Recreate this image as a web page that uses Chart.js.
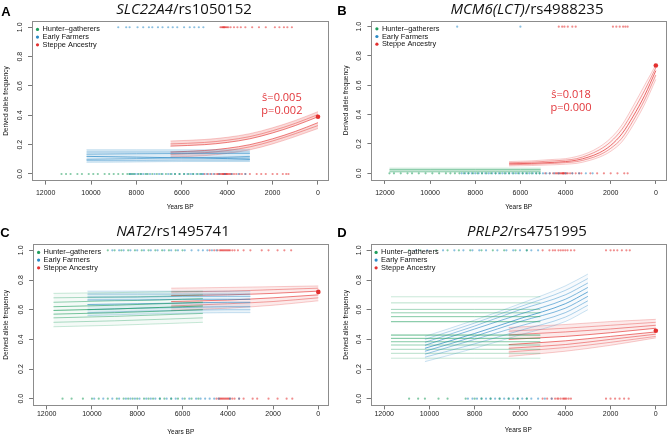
<!DOCTYPE html>
<html>
<head>
<meta charset="utf-8">
<script src="https://cdn.jsdelivr.net/npm/chart.js@4.4.1/dist/chart.umd.min.js"></script>
<style>
body { margin: 0; width: 670px; height: 434px; overflow: hidden; background: #fff; position: relative; }
.panel { position: absolute; width: 335px; height: 222px; }
.letter { position: absolute; font: bold 13px "Liberation Sans", Arial, sans-serif; transform: translate(-50%, -50%); }
.ttl { position: absolute; font: 15px "Open Sans", sans-serif; transform: translate(-50%, -50%); white-space: nowrap; color: #111; }
</style>
</head>
<body>
<div class="panel" style="left:0;top:0"><canvas id="pA" width="335" height="222"></canvas></div>
<div class="panel" style="left:335px;top:0"><canvas id="pB" width="335" height="222"></canvas></div>
<div class="panel" style="left:0;top:217px"><canvas id="pC" width="335" height="222"></canvas></div>
<div class="panel" style="left:335px;top:217px"><canvas id="pD" width="335" height="222"></canvas></div>

<div class="letter" style="left:6px;top:11px">A</div>
<div class="letter" style="left:342px;top:10px">B</div>
<div class="letter" style="left:5px;top:232px">C</div>
<div class="letter" style="left:342px;top:232px">D</div>
<div class="ttl" style="left:184px;top:8px"><i>SLC22A4</i>/rs1050152</div>
<div class="ttl" style="left:527px;top:8px"><i>MCM6(LCT)</i>/rs4988235</div>
<div class="ttl" style="left:173px;top:230px"><i>NAT2</i>/rs1495741</div>
<div class="ttl" style="left:527px;top:230px"><i>PRLP2</i>/rs4751995</div>

<script>
Chart.defaults.font.family = '"Liberation Sans", Arial, sans-serif'

const popNames = ['Hunter–gatherers', 'Early Farmers', 'Steppe Ancestry']
const GREEN = '#1f9e5c', BLUE = '#2a8ac6', RED = '#e3302f'
const popColors = [GREEN, BLUE, RED]
const yearTicks = [0, 2000, 4000, 6000, 8000, 10000, 12000]
const freqTicks = [0, 0.2, 0.4, 0.6, 0.8, 1.0]

// ---- A: SLC22A4/rs1050152
const aFarmerYears = [10200, 8000, 6000, 4000, 3000]
const aFarmerLines = [
    [0.165, 0.165, 0.165, 0.165, 0.165],
    [0.15, 0.15, 0.15, 0.15, 0.15],
    [0.135, 0.138, 0.14, 0.14, 0.14],
    [0.12, 0.115, 0.11, 0.105, 0.10],
    [0.10, 0.105, 0.11, 0.115, 0.12],
    [0.092, 0.093, 0.095, 0.095, 0.095],
    [0.08, 0.082, 0.085, 0.085, 0.085]
]
const aSteppeYears = [6500, 5000, 4000, 3000, 2000, 1000, 0]
const aSteppeLines = [
    [0.225, 0.235, 0.25, 0.275, 0.315, 0.365, 0.425],
    [0.205, 0.215, 0.23, 0.255, 0.295, 0.345, 0.405],
    [0.19, 0.20, 0.215, 0.24, 0.28, 0.33, 0.39],
    [0.15, 0.16, 0.175, 0.20, 0.24, 0.29, 0.35],
    [0.135, 0.145, 0.16, 0.185, 0.225, 0.275, 0.33],
    [0.115, 0.125, 0.14, 0.165, 0.205, 0.255, 0.31]
]
const aToday = 0.39
const aHG0 = [11300, 11100, 10900, 10600, 10400, 10100, 9900, 9700, 9400, 9200, 9000, 8800, 8600, 8400, 8300, 8200, 8100, 7900, 7800, 7600, 7500, 7300, 7100, 6900, 6700, 6500, 6300, 6100, 5900, 5700, 5500, 5300, 5150]
const aEF0 = [8300, 8250, 8150, 8050, 7950, 7800, 7700, 7550, 7400, 7200, 7000, 6850, 6600, 6450, 6300, 6100, 5900, 5750, 5600, 5500, 5350, 5200, 5100, 5050, 4900, 4750, 4600, 4350, 4100, 3800, 3500, 3200]
const aST0 = [5000, 4850, 4700, 4550, 4450, 4400, 4350, 4300, 4250, 4200, 4180, 4150, 4120, 4100, 4080, 4050, 4020, 4000, 3950, 3900, 3850, 3800, 3700, 3600, 3450, 3350, 3200, 3000, 2700, 2500, 2300, 2000, 1800, 1550, 1400, 1300]
const aHG1 = []
const aEF1 = [8800, 8450, 8300, 7950, 7700, 7450, 7300, 7050, 6850, 6600, 6400, 6200, 5900, 5650, 5450, 5250, 5050]
const aST1 = [4300, 4250, 4200, 4180, 4150, 4120, 4100, 4050, 4000, 3950, 3850, 3700, 3550, 3400, 3200, 2900, 2600, 2300, 1900, 1700, 1500, 1350, 1150]
const aNote = ['ŝ=0.005', 'p=0.002']

// ---- B: MCM6(LCT)/rs4988235
const bHunterYears = [11800, 10000, 8000, 6000, 5100]
const bHunterLines = [
    [0.035, 0.035, 0.035, 0.035, 0.035],
    [0.025, 0.025, 0.025, 0.025, 0.025],
    [0.015, 0.015, 0.015, 0.015, 0.015],
    [0.008, 0.008, 0.008, 0.008, 0.008]
]
const bSteppeYears = [6500, 5500, 4500, 4000, 3500, 3000, 2500, 2000, 1500, 1000, 500, 0]
const bSteppeLines = [
    [0.08, 0.085, 0.095, 0.10, 0.115, 0.14, 0.18, 0.24, 0.33, 0.46, 0.60, 0.74],
    [0.072, 0.076, 0.085, 0.09, 0.10, 0.125, 0.16, 0.215, 0.30, 0.425, 0.565, 0.72],
    [0.065, 0.068, 0.075, 0.08, 0.09, 0.11, 0.14, 0.19, 0.27, 0.39, 0.53, 0.70],
    [0.058, 0.062, 0.068, 0.073, 0.08, 0.098, 0.125, 0.17, 0.24, 0.36, 0.50, 0.67],
    [0.05, 0.053, 0.058, 0.062, 0.068, 0.085, 0.11, 0.15, 0.215, 0.33, 0.47, 0.64]
]
const bToday = 0.735
const bHG0 = [11800, 11600, 11300, 11000, 10800, 10500, 10200, 9900, 9600, 9300, 9100, 8900, 8700, 8500, 8300, 8100, 7900, 7700, 7500, 7300, 7100, 6900, 6700, 6500, 6300, 6100, 5900, 5700, 5500, 5300, 5150]
const bEF0 = [8600, 8450, 8300, 8150, 8000, 7850, 7700, 7550, 7400, 7250, 7100, 6950, 6800, 6650, 6500, 6350, 6200, 6050, 5900, 5750, 5600, 5450, 5300, 5150, 5000, 4850, 4700, 4500, 4300, 4000, 3700, 3400, 3100, 2800]
const bST0 = [4900, 4700, 4550, 4450, 4400, 4350, 4300, 4250, 4200, 4150, 4120, 4100, 4080, 4050, 4000, 3950, 3900, 3800, 3700, 3550, 3400, 3300, 2900, 2600, 2300, 2000, 1700, 1400, 1250]
const bHG1 = []
const bEF1 = [8800, 6000]
const bST1 = [4300, 4150, 4050, 3900, 3700, 3550, 1900, 1750, 1600, 1450, 1350, 1250]
const bNote = ['ŝ=0.018', 'p=0.000']

// ---- C: NAT2/rs1495741
const cHunterYears = [11700, 9000, 7000, 5100]
const cHunterLines = [
    [0.71, 0.715, 0.72, 0.725],
    [0.68, 0.685, 0.69, 0.70],
    [0.65, 0.66, 0.665, 0.675],
    [0.62, 0.63, 0.64, 0.65],
    [0.595, 0.605, 0.615, 0.625],
    [0.57, 0.58, 0.59, 0.60],
    [0.545, 0.555, 0.565, 0.575],
    [0.515, 0.525, 0.535, 0.545],
    [0.485, 0.495, 0.505, 0.515]
]
const cFarmerYears = [10200, 8000, 6000, 4000, 3000]
const cFarmerLines = [
    [0.725, 0.725, 0.725, 0.725, 0.725],
    [0.705, 0.705, 0.705, 0.705, 0.705],
    [0.685, 0.685, 0.69, 0.69, 0.69],
    [0.665, 0.665, 0.67, 0.67, 0.67],
    [0.635, 0.64, 0.645, 0.65, 0.65],
    [0.60, 0.61, 0.615, 0.62, 0.62],
    [0.58, 0.59, 0.595, 0.60, 0.60],
    [0.56, 0.57, 0.575, 0.58, 0.58]
]
const cSteppeYears = [6500, 4000, 2000, 0]
const cSteppeLines = [
    [0.745, 0.75, 0.755, 0.76],
    [0.72, 0.725, 0.735, 0.745],
    [0.695, 0.70, 0.71, 0.725],
    [0.655, 0.665, 0.68, 0.70],
    [0.625, 0.64, 0.655, 0.68],
    [0.595, 0.61, 0.63, 0.66]
]
const cToday = 0.72
const cHG0 = [11300, 10900, 10400, 10000, 9700, 9300, 8900, 8600, 8400, 8200, 8000, 7700, 7500, 7300, 7000, 6800, 6500, 6200, 5900, 5600, 5300]
const cEF0 = [9900, 9500, 9100, 8800, 8500, 8300, 8100, 7900, 7600, 7400, 7200, 7000, 6700, 6500, 6300, 6000, 5700, 5400, 5200, 5000, 4800, 4600, 4400, 3900, 3500]
const cST0 = [4500, 4400, 4350, 4300, 4250, 4200, 4150, 4100, 4050, 4000, 3950, 3900, 3800, 3700, 3500, 3300, 2900, 2700, 2200, 1800, 1400, 1150]
const cHG1 = [9300, 9000, 8700, 8400, 8100, 7800, 7500, 7200, 6900, 6600, 6300, 6000]
const cEF1 = [9100, 8800, 8600, 8300, 8000, 7700, 7400, 7100, 6800, 6500, 6200, 5900, 5600, 5300, 5100, 4900, 4700, 4500]
const cST1 = [4800, 4600, 4450, 4350, 4300, 4250, 4200, 4150, 4100, 4050, 4000, 3950, 3900, 3800, 3700, 3550, 3300, 3000, 2500, 2200, 1800, 1500, 1200]

// ---- D: PRLP2/rs4751995
const dHunterYears = [11700, 8000, 5100]
const dHunterLines = [
    [0.687, 0.687, 0.687],
    [0.646, 0.646, 0.646],
    [0.602, 0.602, 0.602],
    [0.579, 0.579, 0.579],
    [0.553, 0.553, 0.553],
    [0.519, 0.519, 0.519],
    [0.429, 0.429, 0.429],
    [0.407, 0.407, 0.407],
    [0.384, 0.384, 0.384],
    [0.362, 0.362, 0.362],
    [0.333, 0.333, 0.333],
    [0.306, 0.306, 0.306],
    [0.273, 0.273, 0.273]
]
const dFarmerYears = [10200, 8000, 6000, 4000, 3000]
const dFarmerLines = [
    [0.42, 0.53, 0.64, 0.76, 0.84],
    [0.40, 0.51, 0.62, 0.73, 0.81],
    [0.38, 0.49, 0.60, 0.70, 0.78],
    [0.36, 0.47, 0.57, 0.67, 0.75],
    [0.34, 0.44, 0.54, 0.64, 0.72],
    [0.32, 0.42, 0.52, 0.61, 0.69],
    [0.30, 0.40, 0.49, 0.58, 0.66],
    [0.28, 0.37, 0.46, 0.55, 0.63],
    [0.25, 0.34, 0.43, 0.52, 0.60]
]
const dSteppeYears = [6500, 4000, 2000, 0]
const dSteppeLines = [
    [0.48, 0.50, 0.52, 0.535],
    [0.455, 0.475, 0.495, 0.515],
    [0.43, 0.45, 0.47, 0.495],
    [0.40, 0.42, 0.445, 0.475],
    [0.365, 0.39, 0.42, 0.45],
    [0.34, 0.365, 0.40, 0.435],
    [0.315, 0.345, 0.38, 0.42],
    [0.285, 0.32, 0.36, 0.41]
]
const dToday = 0.458
const dHG0 = [10900, 10500, 10200, 9600, 9200, 8400, 8000, 7700, 7300, 6900, 6500, 6100, 5700]
const dEF0 = [8300, 8100, 7900, 7700, 7500, 7300, 7100, 6900, 6700, 6500, 6300, 6100, 5900, 5700, 5500, 5200, 4900, 4600]
const dST0 = [5000, 4800, 4600, 4450, 4350, 4300, 4200, 4100, 4050, 4000, 3950, 3850, 3750, 2200, 2000, 1800, 1600, 1400, 1200]
const dHG1 = [10900, 10400, 9700, 9200, 8700, 8200, 7700, 7200, 6700, 6200, 5700]
const dEF1 = [10600, 10100, 9400, 8900, 8500, 8100, 7800, 7500, 7000, 6600, 6300, 6000, 5700, 5500, 5200]
const dST1 = [5000, 4700, 4550, 4450, 4300, 4200, 4100, 4000, 3900, 3750, 3600, 2200, 2000, 1850, 1700, 1500, 1300, 1150]

function rgba (hex, a) {
    const n = parseInt(hex.slice(1), 16)
    return `rgba(${n >> 16},${(n >> 8) & 255},${n & 255},${a})`
}

// one line per trajectory, outer ones paler, light fill between neighbours
function bandSets (years, lines, color, fillAlpha) {
    const n = lines.length
    const mid = (n - 1) / 2
    return lines.map((ys, i) => {
        const t = mid ? Math.abs(i - mid) / mid : 0
        const gap = n % 2 === 0 && i === n / 2 - 1
        return {
            type: 'line',
            data: years.map((x, k) => ({ x: x, y: ys[k] })),
            borderColor: rgba(color, 0.9 - 0.6 * t),
            borderWidth: 0.8,
            pointRadius: 0,
            cubicInterpolationMode: 'monotone',
            fill: (fillAlpha > 0 && i < n - 1 && !gap) ? '+1' : false,
            backgroundColor: rgba(color, fillAlpha),
            order: 3
        }
    })
}

function obsSet (years, y, color) {
    return {
        type: 'scatter',
        data: years.map(x => ({ x: x, y: y })),
        pointRadius: 1.1,
        pointBorderWidth: 0,
        backgroundColor: rgba(color, 0.55),
        order: 1
    }
}

const framePlugin = {
    id: 'frame',
    afterDraw (chart) {
        const { ctx, chartArea: a } = chart
        ctx.save()
        ctx.strokeStyle = '#8c8c8c'
        ctx.lineWidth = 1
        ctx.strokeRect(Math.round(a.left) + 0.5, Math.round(a.top) + 0.5, Math.round(a.right - a.left), Math.round(a.bottom - a.top))
        // legend
        ctx.font = '7.4px "Liberation Sans", Arial, sans-serif'
        ctx.textBaseline = 'middle'
        popNames.forEach((name, i) => {
            const x = a.left + 5.5
            const y = a.top + 8 + i * 7.7
            ctx.fillStyle = popColors[i]
            ctx.beginPath()
            ctx.arc(x, y, 1.6, 0, Math.PI * 2)
            ctx.fill()
            ctx.fillStyle = '#111'
            ctx.fillText(name, x + 5, y)
        })
        ctx.restore()
    }
}

const notePlugin = {
    id: 'selNote',
    afterDatasetsDraw (chart, args, opts) {
        if (!opts.text) return
        const { ctx, scales } = chart
        ctx.save()
        ctx.font = '11px "Open Sans", sans-serif'
        ctx.fillStyle = '#e2363b'
        ctx.textAlign = 'center'
        ctx.textBaseline = 'middle'
        opts.text.forEach((t, i) => {
            ctx.fillText(t, scales.x.getPixelForValue(opts.year), scales.y.getPixelForValue(opts.freq[i]))
        })
        ctx.restore()
    }
}

function makePanel (id, p) {
    const g = p.geo
    const datasets = []
    p.groups.forEach(gr => datasets.push(...bandSets(gr.years, gr.lines, gr.color, gr.fill)))
    const obs = [[p.hg0, 0, GREEN], [p.ef0, 0, BLUE], [p.st0, 0, RED], [p.hg1, 1, GREEN], [p.ef1, 1, BLUE], [p.st1, 1, RED]]
    obs.forEach(o => datasets.push(obsSet(o[0], o[1], o[2])))
    datasets.push({
        type: 'scatter', data: [{ x: 0, y: p.today }], pointRadius: 2.3,
        backgroundColor: RED, pointBorderWidth: 0, order: 0
    })

    new Chart(document.getElementById(id), {
        type: 'scatter',
        data: { datasets: datasets },
        plugins: [framePlugin, notePlugin],
        options: {
            responsive: false,
            animation: false,
            devicePixelRatio: 1,
            layout: { padding: { left: 0, top: g.top, right: 335 - g.right, bottom: 0 } },
            plugins: {
                legend: { display: false },
                tooltip: { enabled: false },
                selNote: p.note || {}
            },
            scales: {
                x: {
                    type: 'linear', reverse: true, min: -450, max: 12600,
                    afterFit: s => { s.height = 222 - g.bottom },
                    afterBuildTicks: s => { s.ticks = yearTicks.map(v => ({ value: v })) },
                    border: { display: false },
                    grid: { drawOnChartArea: false, drawTicks: true, tickLength: 4, color: '#777' },
                    ticks: {
                        maxRotation: 0, autoSkip: false, padding: g.xTickPad,
                        color: '#222', font: { size: 7 }, callback: v => String(v)
                    },
                    title: { display: true, text: 'Years BP', color: '#111', font: { size: 6.5 }, padding: { top: 0, bottom: g.xTitlePad } }
                },
                y: {
                    min: -0.045, max: 1.04,
                    afterFit: s => { s.width = g.left },
                    afterBuildTicks: s => { s.ticks = freqTicks.map(v => ({ value: v })) },
                    border: { display: false },
                    grid: { drawOnChartArea: false, drawTicks: true, tickLength: 4, color: '#777' },
                    ticks: {
                        minRotation: 90, maxRotation: 90, autoSkip: false,
                        crossAlign: 'center', padding: 3,
                        color: '#222', font: { size: 7 }, callback: v => v.toFixed(1)
                    },
                    title: { display: true, text: 'Derived allele frequency', color: '#111', font: { size: 6.5 }, padding: { top: g.yTitlePad, bottom: 0 } }
                }
            }
        }
    })
}

makePanel('pA', {
    geo: { left: 32, top: 21.4, right: 328.2, bottom: 180.6, xTickPad: 4, xTitlePad: 11, yTitlePad: 2 },
    groups: [
        { years: aFarmerYears, lines: aFarmerLines, color: BLUE, fill: 0.16 },
        { years: aSteppeYears, lines: aSteppeLines, color: RED, fill: 0.18 }
    ],
    hg0: aHG0, ef0: aEF0, st0: aST0, hg1: aHG1, ef1: aEF1, st1: aST1, today: aToday,
    note: { text: aNote, year: 1590, freq: [0.518, 0.43] }
})

makePanel('pB', {
    geo: { left: 36.4, top: 20.8, right: 333.2, bottom: 179.9, xTickPad: 5, xTitlePad: 11, yTitlePad: 7.8 },
    groups: [
        { years: bHunterYears, lines: bHunterLines, color: GREEN, fill: 0.06 },
        { years: bSteppeYears, lines: bSteppeLines, color: RED, fill: 0.05 }
    ],
    hg0: bHG0, ef0: bEF0, st0: bST0, hg1: bHG1, ef1: bEF1, st1: bST1, today: bToday,
    note: { text: bNote, year: 3760, freq: [0.534, 0.445] }
})

makePanel('pC', {
    geo: { left: 33.1, top: 27.4, right: 328.5, bottom: 188.4, xTickPad: 0.5, xTitlePad: 3, yTitlePad: 2 },
    groups: [
        { years: cHunterYears, lines: cHunterLines, color: GREEN, fill: 0.05 },
        { years: cFarmerYears, lines: cFarmerLines, color: BLUE, fill: 0.1 },
        { years: cSteppeYears, lines: cSteppeLines, color: RED, fill: 0.1 }
    ],
    hg0: cHG0, ef0: cEF0, st0: cST0, hg1: cHG1, ef1: cEF1, st1: cST1, today: cToday
})

makePanel('pD', {
    geo: { left: 35.6, top: 27.4, right: 333.6, bottom: 188.4, xTickPad: 0.5, xTitlePad: 4.8, yTitlePad: 7.8 },
    groups: [
        { years: dHunterYears, lines: dHunterLines, color: GREEN, fill: 0 },
        { years: dFarmerYears, lines: dFarmerLines, color: BLUE, fill: 0.04 },
        { years: dSteppeYears, lines: dSteppeLines, color: RED, fill: 0.1 }
    ],
    hg0: dHG0, ef0: dEF0, st0: dST0, hg1: dHG1, ef1: dEF1, st1: dST1, today: dToday
})
</script>
</body>
</html>
